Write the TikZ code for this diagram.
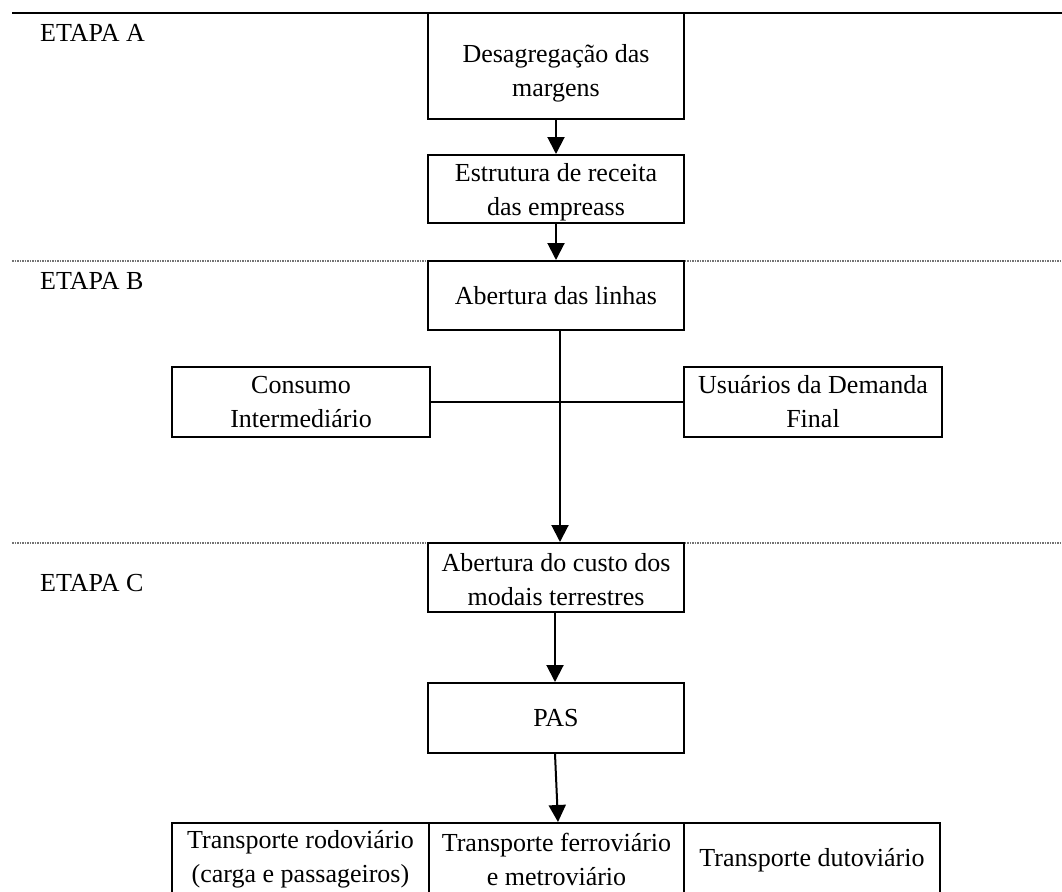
\documentclass[tikz,border=0pt]{standalone}
\usepackage{fontspec}
\setmainfont{Liberation Serif}
\usetikzlibrary{arrows.meta}
\newcommand{\diagfont}{\fontsize{26}{34}\selectfont}
\begin{document}
\begin{tikzpicture}[x=1pt,y=-1pt,
  box/.style={draw,line width=2pt,fill=white,align=center,inner sep=0pt,font=\diagfont},
  txt/.style={align=center,inner sep=0pt,font=\diagfont},
  lbl/.style={anchor=west,inner sep=0pt,font=\diagfont},
  conn/.style={line width=2pt},
  arr/.style={line width=2pt,-{Triangle[width=17pt,length=17pt]}},
  topline/.style={line width=2pt},
  sepline/.style={line width=2pt,draw=black!55,dash pattern=on 1.5pt off 1pt}]
\useasboundingbox (0,0) rectangle (1062,891);
\clip (0,0) rectangle (1062,891);

% separators
\coordinate (tl) at (12,13);   \coordinate (tr) at (1062,13);
\coordinate (bl) at (12,261);  \coordinate (br) at (1062,261);
\coordinate (cl) at (12,543);  \coordinate (cr) at (1062,543);
\draw[topline] (tl) -- (tr);
\draw[sepline] (bl) -- (br);
\draw[sepline] (cl) -- (cr);

% stage labels
\node[lbl] (ea) at (40,33) {ETAPA A};
\node[lbl] (eb) at (40,281) {ETAPA B};
\node[lbl] (ec) at (40,583) {ETAPA C};

% boxes
\node[box,minimum width=256pt,minimum height=106pt] (b1) at (556,66) {};
\node[txt] (b1t) at (556,73) {Desagregação das\\margens};
\node[box,minimum width=256pt,minimum height=68pt] (b2) at (556,189) {};
\node[txt] (b2t) at (556,192.5) {Estrutura de receita\\das empreass};
\node[box,minimum width=256pt,minimum height=69pt] (b3) at (556,295.5) {Abertura das linhas};
\node[box,minimum width=258pt,minimum height=70pt] (ci) at (301,402) {Consumo\\Intermediário};
\node[box,minimum width=258pt,minimum height=70pt] (uf) at (813,402) {Usuários da Demanda\\Final};
\node[box,minimum width=256pt,minimum height=69pt] (b4) at (556,577.5) {};
\node[txt] (b4t) at (556,580) {Abertura do custo dos\\modais terrestres};
\node[box,minimum width=256pt,minimum height=70pt] (pas) at (556,718) {PAS};
\node[box,minimum width=257pt,minimum height=74pt] (tr1) at (300.5,860) {};
\node[txt] (tr1t) at (300.5,859) {Transporte rodoviário\\(carga e passageiros)};
\node[box,minimum width=255pt,minimum height=74pt] (tr2) at (556.5,860) {};
\node[txt] (tr2t) at (556.5,859) {Transporte ferroviário\\e metroviário};
\node[box,minimum width=256pt,minimum height=74pt] (tr3) at (812,860) {Transporte dutoviário};

% connectors
\draw[arr] (b1.south) -- (b2.north);
\draw[arr] (b2.south) -- (b3.north);
\draw[arr] ([xshift=4pt]b3.south) -- ([xshift=4pt]b4.north);
\draw[conn] (ci.east) -- (uf.west);
\draw[arr] ([xshift=-1pt]b4.south) -- ([xshift=-1pt]pas.north);
\draw[arr] ([xshift=-1pt]pas.south) -- ([xshift=1.5pt]tr2.north);
\end{tikzpicture}
\end{document}
